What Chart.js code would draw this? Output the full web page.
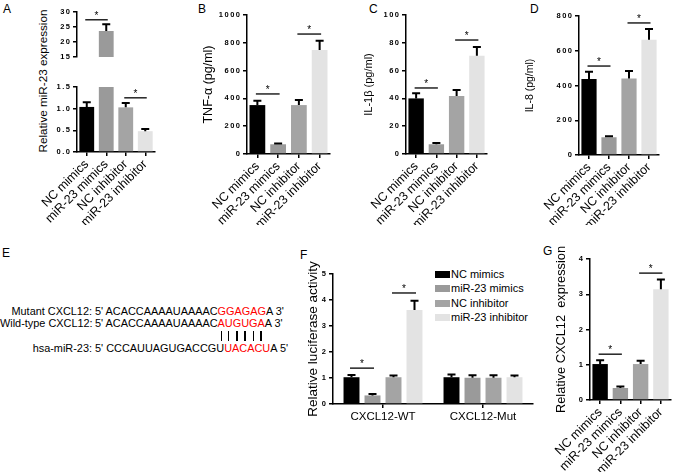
<!DOCTYPE html>
<html>
<head>
<meta charset="utf-8">
<script src="https://cdn.jsdelivr.net/npm/chart.js@4.4.1/dist/chart.umd.min.js"></script>
<style>
  html, body { margin: 0; padding: 0; background: #fff; }
  body { width: 677px; height: 472px; position: relative; overflow: hidden;
         font-family: "Liberation Sans", Arial, sans-serif; color: #000; }
  canvas { position: absolute; }
  .lab { position: absolute; font-size: 12px; line-height: 12px; }
  .ytitle { position: absolute; font-size: 11.7px; white-space: nowrap;
            transform: translate(-50%, -50%) rotate(-90deg); }
  #seq { position: absolute; left: 0; top: 305px; font-size: 10.9px; line-height: 12.4px; white-space: nowrap; }
  #seq .nm { display: inline-block; width: 92px; text-align: right; }
  .red { color: #f00; }
  .hid { visibility: hidden; }
  .pair { position: relative; color: transparent; }
  .pair::after { content: ""; position: absolute; left: 50%; top: 1px; bottom: 1px;
                 width: 1.4px; margin-left: -0.7px; background: #000; }
  #legF { position: absolute; left: 435px; top: 267px; font-size: 11px; line-height: 14.3px; white-space: nowrap; }
  #legF .sw { display: inline-block; width: 15px; height: 7px; vertical-align: 0px; margin-right: 1px; }
</style>
</head>
<body>

<div class="lab" style="left:3px;top:3px">A</div>
<div class="lab" style="left:198px;top:3px">B</div>
<div class="lab" style="left:369px;top:3px">C</div>
<div class="lab" style="left:530px;top:3px">D</div>
<div class="lab" style="left:2px;top:247px">E</div>
<div class="lab" style="left:300px;top:249px">F</div>
<div class="lab" style="left:543px;top:245px">G</div>

<div class="ytitle" style="left:42px;top:81px">Relative miR-23 expression</div>

<div id="seq"><div><span class="nm">Mutant CXCL12:</span> 5' ACACCAAAAUAAAAC<span class="red">GGAGAG</span>A 3'</div><div><span class="nm">Wild-type CXCL12:</span> 5' ACACCAAAAUAAAAC<span class="red">AUGUGA</span>A 3'</div><div><span class="nm"></span><span class="hid"> 5' ACACCAAAAUAAAAC</span><span class="pair">A</span><span class="pair">U</span><span class="pair">G</span><span class="pair">U</span><span class="pair">G</span><span class="pair">A</span></div><div><span class="nm">hsa-miR-23:</span> 5' CCCAUUAGUGACCGU<span class="red">UACACU</span>A 5'</div></div>

<div id="legF"></div>

<script>
/* =========================
   DATA
========================= */
const groups = ["NC mimics", "miR-23 mimics", "NC inhibitor", "miR-23 inhibitor"];
const barColors = ["#000000", "#9a9a9a", "#a4a4a4", "#e3e3e3"];

// A - relative miR-23 expression (broken axis)
const mirMean = [1.04, 23.7, 1.03, 0.48];
const mirSd = [0.11, 2.2, 0.10, 0.05];
const mirLowRange = [0, 1.5, 0.5];
const mirHighRange = [15, 30, 5];
const mirSigHigh = [[0, 1, 27.4]];
const mirSigLow = [[2, 3, 1.25]];

// B - TNF-a
const tnfMean = [352, 70, 352, 748];
const tnfSd = [31, 5, 36, 67];
const tnfRange = [0, 1000, 200];
const tnfSig = [[0, 1, 432], [2, 3, 863]];

// C - IL-1b
const il1bMean = [40, 7, 41.7, 70.7];
const il1bSd = [3.7, 1, 4.3, 6.3];
const il1bRange = [0, 100, 20];
const il1bSig = [[0, 1, 47.5], [2, 3, 82]];

// D - IL-8
const il8Mean = [437, 102, 441, 664];
const il8Sd = [42, 6, 42, 61];
const il8Range = [0, 800, 200];
const il8Sig = [[0, 1, 512], [2, 3, 760]];

// F - luciferase activity (one row per group, one column per construct)
const lucCats = ["CXCL12-WT", "CXCL12-Mut"];
const lucMean = [[1.03, 1.03], [0.33, 1.01], [1.03, 1.01], [3.62, 1.03]];
const lucSd = [[0.09, 0.10], [0.05, 0.10], [0.07, 0.10], [0.35, 0.07]];
const lucRange = [0, 5, 1];
const lucSig = [[0, 1, 1.38], [2, 3, 4.27]];

// G - relative CXCL12 expression
const cxclMean = [1.02, 0.34, 1.02, 3.14];
const cxclSd = [0.11, 0.04, 0.09, 0.28];
const cxclRange = [0, 4, 1];
const cxclSig = [[0, 1, 1.3], [2, 3, 3.6]];

/* =========================
   HELPERS
========================= */
const FAMILY = "'Liberation Sans', Arial, sans-serif";

function spaced(s) {
  return String(s).split("").join("\u2009");
}

function pickBar(chart, k) {
  if (chart.data.datasets.length === 1) return chart.getDatasetMeta(0).data[k];
  return chart.getDatasetMeta(k).data[0];
}

function marks(sig) {
  return {
    id: "marks",
    afterDatasetsDraw(chart) {
      const ctx = chart.ctx;
      const area = chart.chartArea;
      const ys = chart.scales.y;

      // error bars (upper half only)
      ctx.save();
      ctx.beginPath();
      ctx.rect(area.left, area.top, area.right - area.left, area.bottom - area.top);
      ctx.clip();
      ctx.strokeStyle = "#000";
      ctx.lineWidth = 2;
      chart.data.datasets.forEach((ds, d) => {
        chart.getDatasetMeta(d).data.forEach((bar, i) => {
          const top = ys.getPixelForValue(ds.data[i] + ds.sd[i]);
          ctx.beginPath();
          ctx.moveTo(bar.x, bar.y);
          ctx.lineTo(bar.x, top);
          ctx.moveTo(bar.x - 4, top);
          ctx.lineTo(bar.x + 4, top);
          ctx.stroke();
        });
      });
      ctx.restore();

      // significance lines
      ctx.save();
      ctx.strokeStyle = "#000";
      ctx.fillStyle = "#000";
      ctx.lineWidth = 1.3;
      ctx.font = "10px " + FAMILY;
      ctx.textAlign = "center";
      ctx.textBaseline = "alphabetic";
      sig.forEach(([a, b, v]) => {
        const pa = pickBar(chart, a);
        const pb = pickBar(chart, b);
        const y = ys.getPixelForValue(v);
        ctx.beginPath();
        ctx.moveTo(pa.x - 1.5, y);
        ctx.lineTo(pb.x + 1.5, y);
        ctx.stroke();
        ctx.fillText("*", (pa.x + pb.x) / 2, y - 1);
      });
      ctx.restore();
    }
  };
}

function makeChart(geo, cfg) {
  const cv = document.createElement("canvas");
  cv.width = geo.w;
  cv.height = geo.h;
  cv.style.left = geo.x + "px";
  cv.style.top = geo.y + "px";
  cv.style.width = geo.w + "px";
  cv.style.height = geo.h + "px";
  document.body.appendChild(cv);

  const hasTitle = !!cfg.title;
  const padLeft = hasTitle ? geo.titleX - geo.x - cfg.titleSize * 1.2 / 2 : geo.padLeft;
  const yWidth = geo.axisL - geo.x - padLeft;
  const xHeight = geo.y + geo.h - geo.axisB;
  const [yMin, yMax, yStep] = cfg.range;

  return new Chart(cv, {
    type: "bar",
    data: { labels: cfg.labels, datasets: cfg.datasets },
    options: {
      responsive: false,
      animation: false,
      devicePixelRatio: 1,
      layout: {
        padding: {
          left: padLeft,
          top: geo.axisT - geo.y,
          right: geo.x + geo.w - geo.axisR,
          bottom: cfg.showX ? 0 : xHeight
        }
      },
      plugins: { legend: { display: false }, tooltip: { enabled: false } },
      scales: {
        x: {
          display: cfg.showX,
          grid: { offset: false, drawOnChartArea: false, tickLength: 4, color: "#000", lineWidth: 1.5 },
          border: { color: "#000", width: 1.5 },
          ticks: {
            color: "#000",
            autoSkip: false,
            padding: cfg.rot ? 1 : 2,
            minRotation: cfg.rot,
            maxRotation: cfg.rot,
            font: { family: FAMILY, size: cfg.xSize }
          },
          afterFit: s => { s.height = xHeight; }
        },
        y: {
          min: yMin,
          max: yMax,
          grid: { drawOnChartArea: false, tickLength: 4, color: "#000", lineWidth: 1.5 },
          border: { color: "#000", width: 1.5 },
          ticks: {
            stepSize: yStep,
            color: "#000",
            padding: 3,
            font: { family: FAMILY, size: 7.5, weight: "bold" },
            callback: v => spaced(cfg.decimals ? v.toFixed(cfg.decimals) : v)
          },
          title: {
            display: hasTitle,
            text: cfg.title || "",
            color: "#000",
            padding: { top: 0, bottom: 0 },
            font: { family: FAMILY, size: cfg.titleSize || 11 }
          },
          afterFit: s => { s.width = yWidth; }
        }
      }
    },
    plugins: [marks(cfg.sig)]
  });
}

function singleSeries(mean, sd) {
  return [{
    data: mean,
    sd: sd,
    backgroundColor: barColors,
    borderWidth: 0,
    barPercentage: 0.76,
    categoryPercentage: 1,
    clip: 0
  }];
}

/* =========================
   PANEL A (two stacked charts)
========================= */
makeChart(
  { x: 0, y: 0, w: 170, h: 95, axisL: 77, axisR: 155, axisT: 12, axisB: 76, padLeft: 40 },
  { labels: groups, datasets: singleSeries(mirMean, mirSd), range: mirHighRange,
    sig: mirSigHigh, showX: false, rot: 45, xSize: 12.5 }
);
makeChart(
  { x: 0, y: 0, w: 170, h: 225, axisL: 77, axisR: 155, axisT: 87, axisB: 152, padLeft: 40 },
  { labels: groups, datasets: singleSeries(mirMean, mirSd), range: mirLowRange, decimals: 1,
    sig: mirSigLow, showX: true, rot: 45, xSize: 12.5 }
);

/* =========================
   PANELS B, C, D
========================= */
makeChart(
  { x: 190, y: 0, w: 150, h: 225, axisL: 247, axisR: 330, axisT: 15, axisB: 154, titleX: 209 },
  { labels: groups, datasets: singleSeries(tnfMean, tnfSd), range: tnfRange, sig: tnfSig,
    showX: true, rot: 45, xSize: 12.5, title: "TNF-α (pg/ml)", titleSize: 12.5 }
);
makeChart(
  { x: 352, y: 0, w: 145, h: 225, axisL: 406, axisR: 487, axisT: 15, axisB: 154, titleX: 369 },
  { labels: groups, datasets: singleSeries(il1bMean, il1bSd), range: il1bRange, sig: il1bSig,
    showX: true, rot: 45, xSize: 12.5, title: "IL-1β (pg/ml)", titleSize: 11 }
);
makeChart(
  { x: 512, y: 0, w: 165, h: 225, axisL: 579, axisR: 659, axisT: 16, axisB: 155, titleX: 530 },
  { labels: groups, datasets: singleSeries(il8Mean, il8Sd), range: il8Range, sig: il8Sig,
    showX: true, rot: 45, xSize: 12.5, title: "IL-8 (pg/ml)", titleSize: 10.5 }
);

/* =========================
   PANEL F (grouped)
========================= */
makeChart(
  { x: 295, y: 240, w: 250, h: 190, axisL: 333, axisR: 533, axisT: 274, axisB: 404, titleX: 313 },
  {
    labels: lucCats,
    datasets: groups.map((g, k) => ({
      label: g,
      data: lucMean[k],
      sd: lucSd[k],
      backgroundColor: barColors[k],
      borderWidth: 0,
      barPercentage: 0.76,
      categoryPercentage: 0.84,
      clip: 0
    })),
    range: lucRange, sig: lucSig, showX: true, rot: 0, xSize: 11.5,
    title: "Relative luciferase activity", titleSize: 13.5
  }
);

document.getElementById("legF").innerHTML = groups
  .map((g, k) => `<div><span class="sw" style="background:${barColors[k]}"></span>${g}</div>`)
  .join("");

/* =========================
   PANEL G
========================= */
makeChart(
  { x: 548, y: 235, w: 129, h: 237, axisL: 590, axisR: 671, axisT: 259, axisB: 400, titleX: 561 },
  { labels: groups, datasets: singleSeries(cxclMean, cxclSd), range: cxclRange, sig: cxclSig,
    showX: true, rot: 45, xSize: 12.5, title: "Relative CXCL12  expression", titleSize: 12.8 }
);
</script>
</body>
</html>
